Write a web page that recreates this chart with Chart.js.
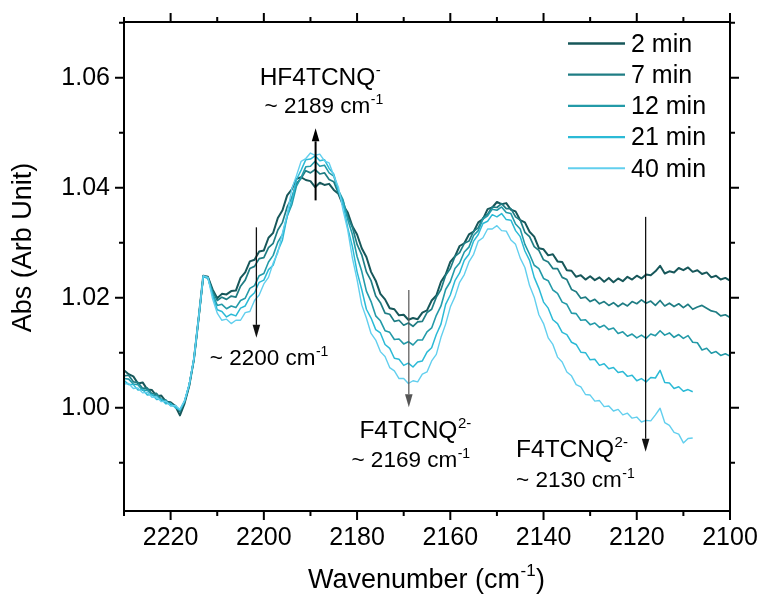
<!DOCTYPE html>
<html>
<head>
<meta charset="utf-8">
<script src="https://cdn.jsdelivr.net/npm/chart.js@4/dist/chart.umd.min.js"></script>
<style>
html,body{margin:0;padding:0;background:#fff;}
#wrap{width:761px;height:596px;}
</style>
</head>
<body>
<div id="wrap"><canvas id="c" width="761" height="596"></canvas></div>
<script>
// ---------------- data ----------------
const wavenumbers = [
2230,2229,2228,2227,2226,2225,2224,2223,2222,2221,2220,2219,2218,2217,2216,2215,2214,2213,2212,2211,
2210,2209,2208,2207,2206,2205,2204,2203,2202,2201,2200,2199,2198,2197,2196,2195,2194,2193,2192,2191,
2190,2189,2188,2187,2186,2185,2184,2183,2182,2181,2180,2179,2178,2177,2176,2175,2174,2173,2172,2171,
2170,2169,2168,2167,2166,2165,2164,2163,2162,2161,2160,2159,2158,2157,2156,2155,2154,2153,2152,2151,
2150,2149,2148,2147,2146,2145,2144,2143,2142,2141,2140,2139,2138,2137,2136,2135,2134,2133,2132,2131,
2130,2129,2128,2127,2126,2125,2124,2123,2122,2121,2120,2119,2118,2117,2116,2115,2114,2113,2112,2111,
2110,2109,2108,2107,2106,2105,2104,2103,2102,2101,2100];

const seriesLabels = ['2 min', '7 min', '12 min', '21 min', '40 min'];

const abs2min = [
1.0068,1.0061,1.0057,1.0044,1.0046,1.0033,1.0032,1.0021,1.0022,1.0011,1.0010,1.0003,0.9986,1.0008,1.0040,1.0088,1.0162,1.0240,1.0238,1.0215,
1.0199,1.0207,1.0206,1.0212,1.0213,1.0236,1.0246,1.0266,1.0269,1.0284,1.0286,1.0309,1.0318,1.0345,1.0359,1.0386,1.0397,1.0416,1.0419,1.0414,
1.0412,1.0401,1.0409,1.0405,1.0407,1.0396,1.0389,1.0368,1.0355,1.0330,1.0315,1.0290,1.0274,1.0247,1.0231,1.0207,1.0197,1.0181,1.0179,1.0168,
1.0169,1.0160,1.0163,1.0161,1.0173,1.0177,1.0195,1.0204,1.0229,1.0242,1.0265,1.0275,1.0294,1.0299,1.0315,1.0320,1.0337,1.0343,1.0361,1.0364,
1.0374,1.0370,1.0372,1.0360,1.0357,1.0341,1.0337,1.0320,1.0311,1.0290,1.0288,1.0277,1.0279,1.0266,1.0265,1.0250,1.0249,1.0238,1.0241,1.0233,
1.0239,1.0232,1.0237,1.0229,1.0236,1.0228,1.0235,1.0230,1.0238,1.0233,1.0240,1.0235,1.0242,1.0241,1.0248,1.0258,1.0244,1.0248,1.0246,1.0254,
1.0250,1.0255,1.0247,1.0250,1.0243,1.0246,1.0237,1.0240,1.0233,1.0236,1.0231];

const abs7min = [
1.0058,1.0059,1.0047,1.0046,1.0035,1.0036,1.0025,1.0026,1.0015,1.0014,1.0005,1.0004,0.9993,1.0011,1.0041,1.0088,1.0162,1.0238,1.0237,1.0212,
1.0195,1.0201,1.0197,1.0203,1.0201,1.0221,1.0232,1.0253,1.0257,1.0271,1.0273,1.0291,1.0299,1.0323,1.0337,1.0365,1.0382,1.0408,1.0417,1.0431,
1.0427,1.0433,1.0425,1.0427,1.0415,1.0411,1.0389,1.0375,1.0347,1.0328,1.0297,1.0278,1.0247,1.0231,1.0203,1.0191,1.0172,1.0170,1.0157,1.0159,
1.0150,1.0154,1.0148,1.0156,1.0157,1.0173,1.0179,1.0201,1.0215,1.0241,1.0253,1.0275,1.0282,1.0299,1.0303,1.0321,1.0327,1.0345,1.0352,1.0365,
1.0364,1.0371,1.0362,1.0362,1.0347,1.0341,1.0319,1.0311,1.0293,1.0286,1.0269,1.0265,1.0253,1.0253,1.0237,1.0233,1.0215,1.0211,1.0199,1.0201,
1.0193,1.0197,1.0189,1.0193,1.0186,1.0191,1.0184,1.0190,1.0185,1.0193,1.0189,1.0196,1.0190,1.0194,1.0186,1.0195,1.0185,1.0190,1.0184,1.0189,
1.0182,1.0188,1.0179,1.0183,1.0186,1.0181,1.0176,1.0174,1.0167,1.0169,1.0164];

const abs12min = [
1.0053,1.0052,1.0043,1.0042,1.0032,1.0032,1.0023,1.0022,1.0013,1.0012,1.0004,1.0003,0.9995,1.0012,1.0042,1.0088,1.0162,1.0238,1.0236,1.0208,
1.0186,1.0188,1.0180,1.0185,1.0182,1.0195,1.0199,1.0217,1.0222,1.0240,1.0244,1.0265,1.0277,1.0301,1.0315,1.0348,1.0369,1.0403,1.0419,1.0438,
1.0439,1.0448,1.0439,1.0441,1.0427,1.0421,1.0395,1.0378,1.0342,1.0315,1.0275,1.0248,1.0212,1.0193,1.0167,1.0158,1.0140,1.0137,1.0124,1.0125,
1.0116,1.0120,1.0114,1.0123,1.0123,1.0138,1.0145,1.0168,1.0185,1.0215,1.0229,1.0253,1.0263,1.0283,1.0292,1.0313,1.0322,1.0343,1.0349,1.0361,
1.0359,1.0365,1.0355,1.0353,1.0334,1.0325,1.0297,1.0279,1.0259,1.0253,1.0235,1.0231,1.0214,1.0208,1.0192,1.0188,1.0172,1.0171,1.0159,1.0160,
1.0151,1.0154,1.0146,1.0150,1.0142,1.0145,1.0135,1.0138,1.0130,1.0134,1.0127,1.0132,1.0126,1.0134,1.0131,1.0140,1.0132,1.0136,1.0128,1.0133,
1.0126,1.0131,1.0119,1.0118,1.0105,1.0108,1.0099,1.0102,1.0095,1.0098,1.0094];

const abs21min = [
1.0050,1.0042,1.0042,1.0032,1.0033,1.0023,1.0024,1.0015,1.0016,1.0007,1.0008,1.0000,0.9996,1.0012,1.0042,1.0088,1.0162,1.0238,1.0236,1.0205,
1.0178,1.0175,1.0165,1.0170,1.0167,1.0181,1.0185,1.0201,1.0209,1.0228,1.0232,1.0251,1.0259,1.0285,1.0305,1.0348,1.0377,1.0415,1.0432,1.0451,
1.0452,1.0458,1.0449,1.0451,1.0435,1.0425,1.0395,1.0371,1.0327,1.0293,1.0247,1.0215,1.0179,1.0163,1.0142,1.0136,1.0115,1.0108,1.0090,1.0088,
1.0077,1.0081,1.0074,1.0083,1.0085,1.0101,1.0109,1.0133,1.0152,1.0188,1.0205,1.0231,1.0245,1.0268,1.0279,1.0303,1.0315,1.0335,1.0339,1.0351,
1.0347,1.0353,1.0342,1.0341,1.0322,1.0311,1.0285,1.0268,1.0237,1.0217,1.0192,1.0181,1.0160,1.0153,1.0137,1.0133,1.0119,1.0115,1.0101,1.0100,
1.0087,1.0088,1.0077,1.0080,1.0071,1.0073,1.0064,1.0066,1.0057,1.0059,1.0049,1.0053,1.0047,1.0055,1.0054,1.0068,1.0046,1.0045,1.0035,1.0038,
1.0030,1.0033,1.0029,null,null,null,null,null,null,null,null];

const abs40min = [
1.0043,1.0044,1.0035,1.0036,1.0027,1.0028,1.0019,1.0020,1.0011,1.0012,1.0003,1.0004,0.9997,1.0013,1.0043,1.0090,1.0163,1.0240,1.0237,1.0198,
1.0172,1.0159,1.0161,1.0153,1.0159,1.0159,1.0173,1.0175,1.0195,1.0205,1.0225,1.0237,1.0263,1.0282,1.0318,1.0352,1.0398,1.0422,1.0448,1.0453,
1.0463,1.0459,1.0461,1.0449,1.0445,1.0422,1.0401,1.0359,1.0323,1.0272,1.0233,1.0187,1.0163,1.0135,1.0123,1.0102,1.0093,1.0073,1.0067,1.0053,
1.0053,1.0044,1.0049,1.0047,1.0061,1.0065,1.0085,1.0097,1.0128,1.0152,1.0183,1.0202,1.0228,1.0242,1.0265,1.0279,1.0303,1.0309,1.0325,1.0325,
1.0331,1.0322,1.0321,1.0305,1.0297,1.0272,1.0255,1.0222,1.0201,1.0169,1.0153,1.0127,1.0115,1.0092,1.0083,1.0065,1.0058,1.0042,1.0038,1.0024,
1.0023,1.0012,1.0013,1.0002,1.0003,0.9994,0.9997,0.9987,0.9990,0.9981,0.9983,0.9974,0.9977,0.9976,0.9987,0.9999,0.9973,0.9968,0.9955,0.9952,
0.9936,0.9944,0.9945,null,null,null,null,null,null,null,null];

const seriesValues = [abs2min, abs7min, abs12min, abs21min, abs40min];

// axis ticks
const xMajorTicks = [2100, 2120, 2140, 2160, 2180, 2200, 2220];
const xMinorTicks = [2110, 2130, 2150, 2170, 2190, 2210, 2230];
const yMajorTicks = [1.00, 1.02, 1.04, 1.06];
const yMinorTicks = [0.99, 1.01, 1.03, 1.05, 1.07];

// annotations (data coordinates)
const arrowMarks = [
  {x: 2188.9, from: 1.0377, to: 1.0508, width: 2.0, color: '#000'},
  {x: 2201.6, from: 1.0328, to: 1.0127, width: 1.3, color: '#111'},
  {x: 2168.9, from: 1.0214, to: 1.0001, width: 1.2, color: '#555'},
  {x: 2118.1, from: 1.0347, to: 0.9920, width: 1.3, color: '#111'}
];
const noteTexts = [
  {x: 2200.9, y: 1.05867, text: 'HF4TCNQ',   sup: '-',  size: 24.5, supSize: 15, raise: 10},
  {x: 2199.85, y: 1.05358, text: '~ 2189 cm', sup: '-1', size: 22.5, supSize: 14, raise: 9},
  {x: 2211.6, y: 1.00776, text: '~ 2200 cm', sup: '-1', size: 22.5, supSize: 14, raise: 9},
  {x: 2179.5, y: 0.99444, text: 'F4TCNQ',    sup: '2-', size: 24.5, supSize: 15, raise: 10},
  {x: 2181.2, y: 0.98922, text: '~ 2169 cm', sup: '-1', size: 22.5, supSize: 14, raise: 9},
  {x: 2145.9, y: 0.99109, text: 'F4TCNQ',    sup: '2-', size: 24.5, supSize: 15, raise: 10},
  {x: 2145.9, y: 0.98564, text: '~ 2130 cm', sup: '-1', size: 22.5, supSize: 14, raise: 9}
];

// ---------------- styling ----------------
const FONT = "'Liberation Sans', Arial, sans-serif";
const seriesColors = ['#17575a', '#1f7d84', '#239aa8', '#2bbad6', '#62cfee'];
const seriesWidths = [2.0, 1.7, 1.6, 1.5, 1.4];

const datasets = seriesLabels.map((label, i) => ({
  label: label,
  data: wavenumbers.map((w, j) => ({x: w, y: seriesValues[i][j]})),
  borderColor: seriesColors[i],
  backgroundColor: seriesColors[i],
  borderWidth: seriesWidths[i],
  pointRadius: 0,
  tension: 0,
  spanGaps: false,
  order: seriesLabels.length - i
}));

function drawWithSup(ctx, x, y, text, sup, size, supSize, raise) {
  ctx.font = size + 'px ' + FONT;
  ctx.textAlign = 'left';
  ctx.textBaseline = 'alphabetic';
  ctx.fillText(text, x, y);
  const w = ctx.measureText(text).width;
  ctx.font = supSize + 'px ' + FONT;
  ctx.fillText(sup, x + w + 0.5, y - raise);
  return w + ctx.measureText(sup).width;
}

const overlay = {
  id: 'overlay',
  afterDatasetsDraw(chart) {
    const ctx = chart.ctx;
    const a = chart.chartArea;
    const xs = chart.scales.x, ys = chart.scales.y;
    ctx.save();
    // frame
    ctx.strokeStyle = '#000';
    ctx.lineWidth = 2;
    ctx.strokeRect(a.left, a.top, a.right - a.left, a.bottom - a.top);
    // ticks
    ctx.beginPath();
    const tick = (vals, len) => {
      vals.forEach(v => {
        const px = xs.getPixelForValue(v);
        ctx.moveTo(px, a.bottom); ctx.lineTo(px, a.bottom + len);
        ctx.moveTo(px, a.top); ctx.lineTo(px, a.top - len);
      });
    };
    const ytick = (vals, len) => {
      vals.forEach(v => {
        if (v < ys.min - 1e-9 || v > ys.max + 1e-9) return;
        const py = ys.getPixelForValue(v);
        ctx.moveTo(a.left, py); ctx.lineTo(a.left - len, py);
        ctx.moveTo(a.right, py); ctx.lineTo(a.right + len, py);
      });
    };
    tick(xMajorTicks, 9); tick(xMinorTicks, 5);
    ytick(yMajorTicks, 9); ytick(yMinorTicks, 5);
    ctx.stroke();

    // arrows
    arrowMarks.forEach(m => {
      const px = xs.getPixelForValue(m.x);
      const p1 = ys.getPixelForValue(m.from);
      const p2 = ys.getPixelForValue(m.to);
      const dir = p2 > p1 ? 1 : -1;
      const head = 13, hw = 3.8;
      ctx.strokeStyle = m.color; ctx.fillStyle = m.color;
      ctx.lineWidth = m.width;
      ctx.beginPath();
      ctx.moveTo(px, p1); ctx.lineTo(px, p2 - dir * head);
      ctx.stroke();
      ctx.beginPath();
      ctx.moveTo(px, p2);
      ctx.lineTo(px - hw, p2 - dir * head);
      ctx.lineTo(px + hw, p2 - dir * head);
      ctx.closePath();
      ctx.fill();
    });

    // annotation texts
    ctx.fillStyle = '#000';
    noteTexts.forEach(n => {
      drawWithSup(ctx, xs.getPixelForValue(n.x), ys.getPixelForValue(n.y), n.text, n.sup, n.size, n.supSize, n.raise);
    });

    // legend
    const lx1 = a.right - 162, lx2 = a.right - 105, tx = a.right - 99;
    chart.data.datasets.forEach((ds, i) => {
      const yy = a.top + 21.5 + i * 31.2;
      ctx.strokeStyle = ds.borderColor;
      ctx.lineWidth = ds.borderWidth + 0.6;
      ctx.beginPath(); ctx.moveTo(lx1, yy); ctx.lineTo(lx2, yy); ctx.stroke();
      ctx.fillStyle = '#000';
      ctx.font = '25px ' + FONT;
      ctx.textAlign = 'left';
      ctx.textBaseline = 'middle';
      ctx.fillText(ds.label, tx, yy + 1.5);
    });

    // axis titles
    ctx.fillStyle = '#000';
    ctx.font = '27px ' + FONT;
    const t1 = 'Wavenumber (cm', s1 = '-1', t2 = ')';
    const w1 = ctx.measureText(t1).width;
    const w3 = ctx.measureText(t2).width;
    ctx.font = '17px ' + FONT;
    const w2 = ctx.measureText(s1).width;
    const total = w1 + w2 + w3 + 1;
    const cx = (a.left + a.right) / 2 - 0.5;
    let sx = cx - total / 2;
    const by = 588;
    ctx.textAlign = 'left'; ctx.textBaseline = 'alphabetic';
    ctx.font = '27px ' + FONT;
    ctx.fillText(t1, sx, by);
    ctx.font = '17px ' + FONT;
    ctx.fillText(s1, sx + w1 + 0.5, by - 12);
    ctx.font = '27px ' + FONT;
    ctx.fillText(t2, sx + w1 + w2 + 1, by);

    ctx.save();
    ctx.translate(23.5, (a.top + a.bottom) / 2 - 19);
    ctx.rotate(-Math.PI / 2);
    ctx.textAlign = 'center'; ctx.textBaseline = 'middle';
    ctx.font = '27px ' + FONT;
    ctx.fillText('Abs (Arb Unit)', 0, 0);
    ctx.restore();

    ctx.restore();
  }
};

new Chart(document.getElementById('c'), {
  type: 'line',
  data: { datasets: datasets },
  options: {
    responsive: false,
    animation: false,
    devicePixelRatio: 1,
    layout: { padding: { left: 0, top: 22, right: 31, bottom: 0 } },
    plugins: { legend: { display: false }, tooltip: { enabled: false } },
    elements: { point: { radius: 0 }, line: { borderJoinStyle: 'round' } },
    scales: {
      x: {
        type: 'linear', position: 'bottom', min: 2100, max: 2230, reverse: true,
        grid: { display: false, drawTicks: false }, border: { display: false },
        ticks: {
          stepSize: 20, includeBounds: false, autoSkip: false, maxRotation: 0, minRotation: 0,
          padding: 12, color: '#000', font: { family: FONT, size: 25 },
          callback: v => String(v)
        },
        afterFit: s => { s.height = 85; s.paddingLeft = 0; s.paddingRight = 0; }
      },
      y: {
        type: 'linear', position: 'left', min: 0.98122, max: 1.07013,
        grid: { display: false, drawTicks: false }, border: { display: false },
        ticks: {
          stepSize: 0.02, includeBounds: false, autoSkip: false,
          padding: 14, color: '#000', font: { family: FONT, size: 25 },
          callback: v => Number(v).toFixed(2)
        },
        afterFit: s => { s.width = 124; s.paddingTop = 0; s.paddingBottom = 0; }
      }
    }
  },
  plugins: [overlay]
});
</script>
</body>
</html>
